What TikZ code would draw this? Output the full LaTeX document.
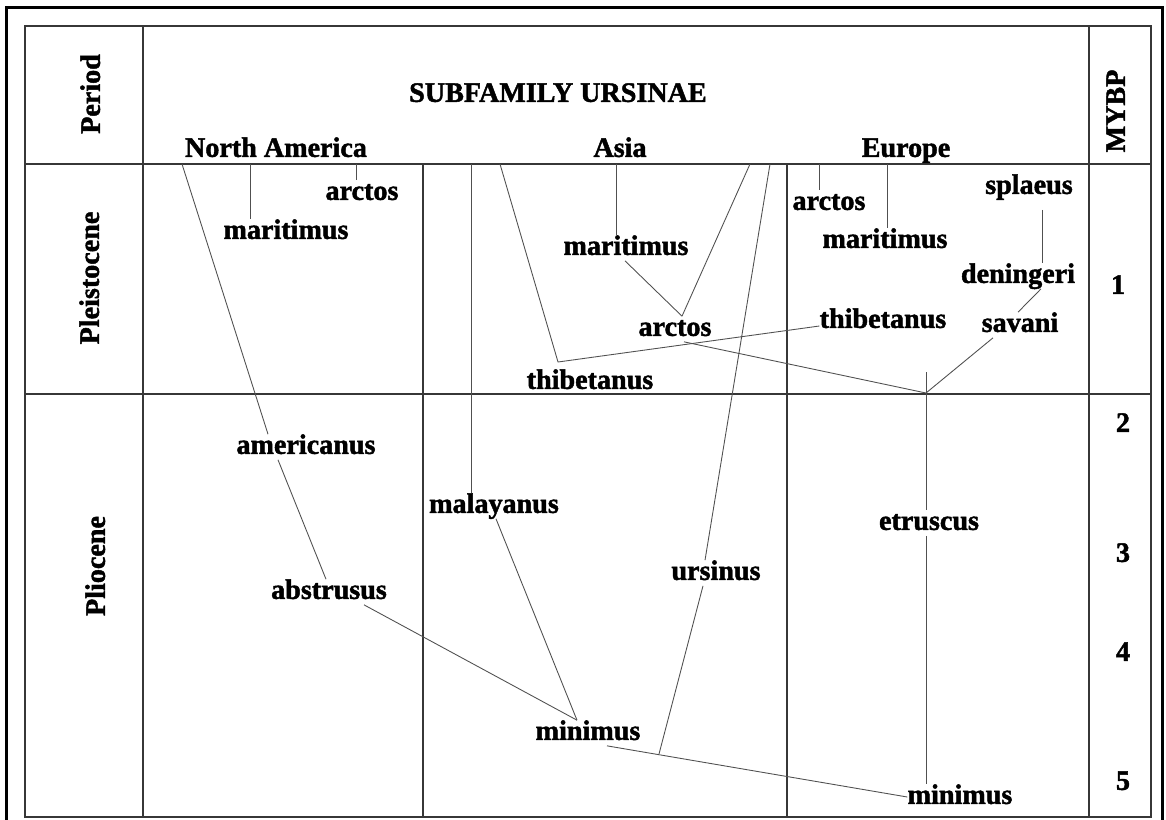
\documentclass[tikz,border=0pt]{standalone}
\usepackage{fontspec}
\setmainfont{Liberation Serif}[BoldFeatures={FakeBold=1.6}]
\usetikzlibrary{calc}
\definecolor{rulegrey}{RGB}{55,55,55}
\definecolor{branchgrey}{RGB}{80,80,80}

\begin{document}
\begin{tikzpicture}[x=0.02cm, y=-0.02cm,
    lbl/.style={font=\fontsize{16}{18}\selectfont\bfseries, inner sep=0pt,
      text height=11pt, text depth=3.2pt},
    rot/.style={lbl, rotate=90},
    rule/.style={draw=rulegrey, line width=0.75pt},
    branch/.style={draw=branchgrey, line width=0.5pt}
  ]
  \useasboundingbox (0,0) rectangle (1166,819);
  \draw[line width=1.7pt] (6.5,840) -- (6.5,7.5) -- (1162.5,7.5) -- (1162.5,840);

  \draw[rule] (25,26) rectangle (1151,817);
  \draw[rule] (25,164) -- (1151,164);
  \draw[rule] (25,394) -- (1151,394);
  \draw[rule] (143,26) -- (143,817);
  \draw[rule] (1089,26) -- (1089,817);
  \draw[rule] (423,164) -- (423,817);
  \draw[rule] (787,164) -- (787,817);

  \node[rot] (period) at (93,94)  {Period};
  \node[lbl] (title)  at (558,95) {SUBFAMILY URSINAE};
  \node[rot] (mybp)   at (1118,111) {MYBP};
  \node[lbl] (nam)    at (276,150) {North America};
  \node[lbl] (asia)   at (620,150) {Asia};
  \node[lbl] (eur)    at (906,150) {Europe};
  \node[rot] (pleist) at (92,278) {Pleistocene};
  \node[rot] (plio)   at (98,566) {Pliocene};

  \node[lbl] (my1) at (1118,287) {1};
  \node[lbl] (my2) at (1123,425) {2};
  \node[lbl] (my3) at (1123,555) {3};
  \node[lbl] (my4) at (1123,654) {4};
  \node[lbl] (my5) at (1123,783) {5};

  \coordinate (naT)    at (182,164);
  \coordinate (naMarT) at (250,164);
  \coordinate (naArcT) at (356,164);
  \coordinate (malT)   at (471,164);
  \coordinate (thiT)   at (500,164);
  \coordinate (asMarT) at (616,164);
  \coordinate (asArcT) at (750,164);
  \coordinate (ursT)   at (770,164);
  \coordinate (euArcT) at (819,164);
  \coordinate (euMarT) at (887,164);
  \coordinate (thiK)   at (558,362);
  \coordinate (etS)    at (926,372);
  \coordinate (etJ)    at (926,393);
  \coordinate (ursJ)   at (659,754);

  \node[lbl] (arcNA) at (362,193) {arctos};
  \node[lbl] (marNA) at (286,232) {maritimus};
  \node[lbl] (amer)  at (306,447) {americanus};
  \node[lbl] (abst)  at (329,592) {abstrusus};
  \node[lbl] (mala)  at (494,506) {malayanus};
  \node[lbl] (marAs) at (626,248) {maritimus};
  \node[lbl] (arcAs) at (675,329) {arctos};
  \node[lbl] (thiAs) at (590,382) {thibetanus};
  \node[lbl] (urs)   at (716,573) {ursinus};
  \node[lbl] (minAs) at (588,733) {minimus};
  \node[lbl] (arcEu) at (829,203) {arctos};
  \node[lbl] (marEu) at (885,241) {maritimus};
  \node[lbl] (spl)   at (1029,187) {splaeus};
  \node[lbl] (den)   at (1018,276) {deningeri};
  \node[lbl] (thiEu) at (883,321) {thibetanus};
  \node[lbl] (sav)   at (1020,325) {savani};
  \node[lbl] (etr)   at (929,523) {etruscus};
  \node[lbl] (minEu) at (960,797) {minimus};

  \draw[branch] (naT) -- ($(amer.north)+(-38,0)$);
  \draw[branch] ($(amer.south)+(-28,0)$) -- ($(abst.north)+(-3,0)$);
  \draw[branch] ($(abst.south)+(35,0)$) -- ($(minAs.north)+(-11,0)$);
  \draw[branch] (naMarT) -- (naMarT |- marNA.north);
  \draw[branch] (naArcT) -- (naArcT |- arcNA.north);
  \draw[branch] (malT) -- (malT |- mala.north);
  \draw[branch] ($(mala.south)+(2,0)$) -- ($(minAs.north)+(-11,0)$);
  \draw[branch] ($(minAs.south)+(19,0)$) -- (minEu.west);
  \draw[branch] (ursT) -- ($(urs.north)+(-11,0)$);
  \draw[branch] ($(urs.south)+(-13,0)$) -- (ursJ);
  \draw[branch] (thiT) -- (thiK) -- ($(thiEu.west)+(0,5)$);
  \draw[branch] (asMarT) -- (asMarT |- marAs.north);
  \draw[branch] ($(marAs.south)+(-1,0)$) -- ($(arcAs.north)+(7,0)$);
  \draw[branch] (asArcT) -- ($(arcAs.north)+(7,0)$);
  \draw[branch] ($(arcAs.south)+(9,0)$) -- (etJ);
  \draw[branch] (euArcT) -- (euArcT |- arcEu.north);
  \draw[branch] (euMarT) -- (euMarT |- marEu.north);
  \draw[branch] ($(spl.south)+(13,10)$) -- ($(den.north)+(24,0)$);
  \draw[branch] ($(den.south)+(23,0)$) -- ($(sav.north)+(-2,0)$);
  \draw[branch] ($(sav.south)+(-27,0)$) -- (etJ);
  \draw[branch] (etS) -- (etJ) -- (etJ |- etr.north);
  \draw[branch] (etJ |- etr.south) -- (etJ |- minEu.north);
\end{tikzpicture}
\end{document}
